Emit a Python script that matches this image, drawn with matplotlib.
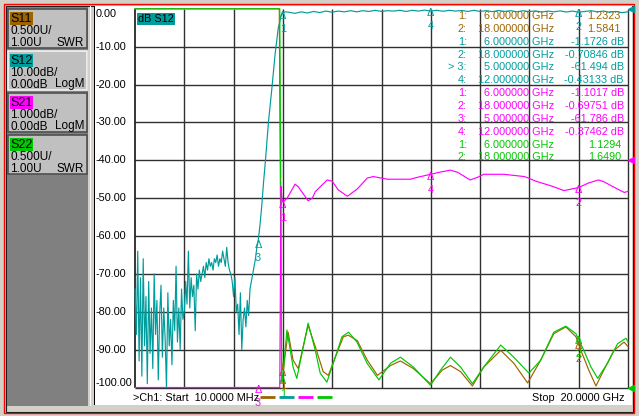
import numpy as np
import matplotlib
matplotlib.use("Agg")
import matplotlib.pyplot as plt
from matplotlib.patches import Rectangle
from matplotlib.transforms import blended_transform_factory, ScaledTranslation

plt.rcParams["font.family"] = ["Liberation Sans", "DejaVu Sans"]

# ---------------------------------------------------------------------------
# DONNEES (lues sur la capture de l'analyseur)
# ---------------------------------------------------------------------------
F_START, F_STOP = 0.01, 20.0          # GHz

# S12 : bruit en bande coupee, balayage lineaire 0.01 -> 4.95 GHz
s12_noise_db = [
    -74, -86, -64, -93, -71, -97, -66, -89, -76, -99,
    -72, -91, -79, -95, -70, -86, -77, -98, -81, -73,
    -92, -79, -87, -100, -75, -89, -82, -94,
    -77, -85, -68, -88, -79, -90, -74, -82, -80,
    -72, -78, -64, -79, -71, -76, -73, -85, -70, -74, -69, -72,
    -70, -68, -71, -67, -69, -66, -68, -67, -69, -66,
    -67, -65, -68, -66, -67, -64, -66, -68, -63, -67, -69, -70,
    -72, -76, -71, -80, -78, -86, -75, -90, -82, -79, -84, -77, -81, -74,
    -72, -70, -68, -66, -63,
]
# S12 : front de montee
s12_edge_ghz = [5.0, 5.08, 5.15, 5.22, 5.30, 5.42, 5.56, 5.69, 5.82, 5.93, 6.0, 6.1]
s12_edge_db = [-61.5, -57, -52, -46, -40, -30, -21, -12, -5, -2, -1.17, -0.8]
# S12 : bande passante, 6.25 -> 20 GHz par pas de 0.25 GHz
s12_pass_db = [
    -0.9, -1.2, -0.8, -1.1, -0.7, -1.0, -0.6, -0.9, -0.6, -0.8,
    -0.5, -0.8, -0.5, -0.7, -0.4, -0.7, -0.5, -0.6, -0.4, -0.7,
    -0.4, -0.6, -0.35, -0.6, -0.4, -0.65, -0.4, -0.6, -0.45, -0.7,
    -0.4, -0.7, -0.5, -0.75, -0.45, -0.7, -0.5, -0.8, -0.5, -0.75,
    -0.55, -0.85, -0.6, -0.8, -0.55, -0.85, -0.6, -0.9, -0.7, -0.5,
    -0.8, -0.6, -0.9, -0.7, -1.0, -0.8,
]

s21_ghz = [0.01, 2.0, 4.0, 5.0, 5.5, 5.88, 5.93, 5.97, 6.02, 6.18,
           6.5, 6.63, 7.03, 7.2, 7.32, 7.8, 8.0, 8.25, 8.62, 9.02,
           9.43, 9.67, 10.24, 10.77, 11.18, 11.46, 12.0, 12.4, 12.8, 13.1,
           13.6, 13.9, 14.15, 14.96, 15.8, 16.3, 16.9, 17.4, 18.0, 18.4,
           18.8, 19.0, 19.4, 19.85, 20.0]
s21_db = [-78, -72, -68, -61.8, -25, -9, -0.69, -1.05, -1.1, -1.0,
          -0.63, -0.7, -1.07, -1.0, -0.83, -0.52, -0.55, -0.78, -0.95, -0.76,
          -0.47, -0.43, -0.5, -0.5, -0.5, -0.45, -0.37, -0.31, -0.26, -0.32,
          -0.52, -0.45, -0.37, -0.37, -0.43, -0.56, -0.68, -0.8, -0.72, -0.6,
          -0.52, -0.56, -0.7, -0.85, -0.82]

s11_ghz = [0.01, 5.86, 5.95, 6.02, 6.22, 6.42, 6.63, 6.83, 7.03, 7.32,
           7.64, 7.85, 8.13, 8.46, 8.66, 9.02, 9.43, 9.84, 10.37, 10.77,
           11.30, 11.99, 12.47, 12.80, 13.21, 13.69, 14.15, 14.84, 15.37, 15.93,
           16.46, 16.99, 17.48, 17.89, 18.09, 18.41, 18.70, 19.02, 19.43, 19.84,
           20.0]
s11_swr = [60, 45, 1.35, 1.23, 1.73, 1.36, 1.25, 1.54, 1.82, 1.54,
           1.21, 1.16, 1.40, 1.67, 1.69, 1.62, 1.36, 1.16, 1.29, 1.35,
           1.25, 1.05, 1.23, 1.29, 1.21, 1.02, 1.27, 1.49, 1.32, 1.06,
           1.36, 1.71, 1.80, 1.67, 1.49, 1.23, 1.02, 1.23, 1.49, 1.60,
           1.54]

s22_ghz = [0.01, 5.88, 5.96, 6.0, 6.17, 6.42, 6.57, 6.78, 7.03, 7.32,
           7.52, 7.79, 8.13, 8.40, 8.67, 9.01, 9.42, 9.9, 10.37, 10.77,
           11.30, 11.99, 12.40, 12.80, 13.21, 13.69, 14.15, 14.84, 15.37, 15.98,
           16.46, 16.99, 17.48, 17.89, 18.21, 18.50, 18.77, 19.17, 19.58, 19.92,
           20.0]
s22_swr = [60, 45, 1.07, 1.13, 1.76, 1.27, 1.12, 1.45, 1.85, 1.49,
           1.19, 1.07, 1.40, 1.67, 1.73, 1.60, 1.32, 1.10, 1.32, 1.40,
           1.27, 1.03, 1.23, 1.40, 1.27, 1.05, 1.27, 1.56, 1.40, 1.19,
           1.36, 1.73, 1.81, 1.71, 1.49, 1.27, 1.12, 1.32, 1.58, 1.65,
           1.60]

# marqueurs
mk_s11_ghz, mk_s11_val, mk_s11_num = [6, 18], [1.2323, 1.5841], ["1", "2"]
mk_s12_ghz = [6, 18, 5, 12]
mk_s12_val = [-1.1726, -0.70846, -61.494, -0.43133]
mk_s12_num = ["1", "2", "3", "4"]
mk_s21_ghz = [6, 18, 5, 12]
mk_s21_val = [-1.1017, -0.69751, -61.786, -0.37462]
mk_s21_num = ["1", "2", "3", "4"]
mk_s22_ghz, mk_s22_val, mk_s22_num = [6, 18], [1.1294, 1.6490], ["1", "2"]

y_tick_labels = ["0.00", "-10.00", "-20.00", "-30.00", "-40.00", "-50.00",
                 "-60.00", "-70.00", "-80.00", "-90.00", "-100.00"]

# tableau des marqueurs (texte affiche)
table_trace = ["S11", "S11", "S12", "S12", "S12", "S12",
               "S21", "S21", "S21", "S21", "S22", "S22"]
table_num = ["1:", "2:", "1:", "2:", "> 3:", "4:", "1:", "2:", "3:", "4:", "1:", "2:"]
table_freq = ["6.000000 GHz", "18.000000 GHz", "6.000000 GHz", "18.000000 GHz",
              "5.000000 GHz", "12.000000 GHz", "6.000000 GHz", "18.000000 GHz",
              "5.000000 GHz", "12.000000 GHz", "6.000000 GHz", "18.000000 GHz"]
table_val = ["1.2323", "1.5841", "-1.1726 dB", "-0.70846 dB", "-61.494 dB",
             "-0.43133 dB", "-1.1017 dB", "-0.69751 dB", "-61.786 dB",
             "-0.37462 dB", "1.1294", "1.6490"]

buttons = [("S11", "0.500U/", "1.00U", "SWR"),
           ("S12", "10.00dB/", "0.00dB", "LogM"),
           ("S21", "1.000dB/", "0.00dB", "LogM"),
           ("S22", "0.500U/", "1.00U", "SWR")]

COLORS = {"S11": "#9C6400", "S12": "#009C9C", "S21": "#FF00FF", "S22": "#00C800"}
GRID = "#303030"
FS = 7.8
FS_BTN = 8.5

# ---------------------------------------------------------------------------
# FIGURE + CADRE (coordonnees en pixels)
# ---------------------------------------------------------------------------
W, H = 639, 416
PX0, PX1, PY0, PY1 = 135, 628, 8.8, 387.5

fig = plt.figure(figsize=(W / 100, H / 100), dpi=100)
fig.patch.set_facecolor("#D4D0C8")

bg = fig.add_axes([0, 0, 1, 1], zorder=0, label="bg")
bg.axis("off")


def rect(x0, y0, x1, y1, **kw):
    bg.add_patch(Rectangle((x0, y0), x1 - x0, y1 - y0, **kw))


rect(4, 4, 634, 413, fill=False, ec="#FF0000", lw=1.0)
rect(5.5, 5.5, 632.5, 411.5, fill=False, ec="#202020", lw=0.8)
rect(7, 7, 88, 406, fc="#808080", ec="none")
rect(94, 6, 632, 405, fc="white", ec="none")
rect(93.5, 6, 94.5, 405, fc="black", ec="none")
rect(89.5, 6, 90.5, 406, fc="white", ec="none")

# grille de l'ecran : 10 x 10 divisions (pas de trait en haut)
for k in range(1, 11):
    gx = PX0 + k * (PX1 - PX0) / 10
    bg.plot([gx, gx], [PY0, PY1], color=GRID, lw=1.0, solid_capstyle="butt")
for k in range(1, 11):
    gy = PY0 + k * (PY1 - PY0) / 10
    bg.plot([PX0, PX1], [gy, gy], color=GRID, lw=1.0, solid_capstyle="butt")
bg.plot([PX0, PX0], [PY0, PY1], color="black", lw=1.1, solid_capstyle="butt")

# boutons de traces a gauche
for i, (name, l1, l2, fmt) in enumerate(buttons):
    y = 9 + 42 * i
    edge = "#F4F4F4" if name == "S12" else "#505050"
    rect(8, y, 87, y + 39, fc="#C0C0C0", ec=edge, lw=1.2)
    rect(10, y + 3, 33, y + 15.5, fc=COLORS[name], ec="none")

bg.set_xlim(0, W)
bg.set_ylim(H, 0)

top = fig.add_axes([0, 0, 1, 1], zorder=10, label="top")
top.axis("off")

for i, (name, l1, l2, fmt) in enumerate(buttons):
    y = 9 + 42 * i
    top.text(10.5, y + 9.8, name, fontsize=FS_BTN + 0.5, va="center", ha="left")
    top.text(10.5, y + 22.5, l1, fontsize=FS_BTN, va="center", ha="left")
    top.text(10.5, y + 33.5, l2, fontsize=FS_BTN, va="center", ha="left")
    top.text(84, y + 33.5, fmt, fontsize=FS_BTN, va="center", ha="right")

# ---------------------------------------------------------------------------
# AXES DES TRACES
# ---------------------------------------------------------------------------
rect_ax = [PX0 / W, 1 - PY1 / H, (PX1 - PX0) / W, (PY1 - PY0) / H]

ax = fig.add_axes(rect_ax, zorder=1, label="s12")
ax_swr = fig.add_axes(rect_ax, zorder=2, label="swr")
ax21 = fig.add_axes(rect_ax, zorder=3, label="s21")

for a in (ax, ax_swr, ax21):
    a.patch.set_visible(False)
    a.set_xticks([])
    a.set_yticks([])
    for s in a.spines.values():
        s.set_visible(False)
    a.set_xlim(F_START, F_STOP)
ax.set_ylim(-100, 0)
ax21.set_ylim(-6, 4)
ax_swr.set_ylim(1, 6)

LW = 0.85
# S11 / S22 (SWR, 0.5 U/div, ref 1.00 en bas)
ax_swr.plot(s11_ghz, np.clip(s11_swr, 1, 6), color=COLORS["S11"], lw=LW, clip_on=False)
ax_swr.plot(s22_ghz, np.clip(s22_swr, 1, 6), color=COLORS["S22"], lw=LW, clip_on=False)

# S12 (10 dB/div)
s12_f = np.concatenate([np.linspace(F_START, 4.95, len(s12_noise_db)), s12_edge_ghz,
                        np.linspace(6.25, F_STOP, len(s12_pass_db))])
s12_v = np.concatenate([s12_noise_db, s12_edge_db, s12_pass_db])
ax.plot(s12_f, np.clip(s12_v, -100, 0), color=COLORS["S12"], lw=LW, clip_on=False)

# S21 (1 dB/div, ref 0 dB sur la 4e division)
ax21.plot(s21_ghz, np.clip(s21_db, -6, 4), color=COLORS["S21"], lw=LW, clip_on=False)

# etiquettes de l'axe Y
ylab_tr = blended_transform_factory(ax.transAxes, ax.transData)
for lab, v in zip(y_tick_labels, np.arange(0, -101, -10)):
    va = "top" if v == 0 else ("bottom" if v == -100 else "center")
    ax.text((96 - PX0) / (PX1 - PX0), v, lab, transform=ylab_tr, fontsize=FS,
            ha="left", va=va, clip_on=False)


def draw_markers(a, freqs, vals, nums, color, lo, hi):
    for f, v, n in zip(freqs, vals, nums):
        v = min(max(v, lo), hi)
        a.annotate("\u0394", xy=(f, v), xytext=(0, 2), textcoords="offset pixels",
                   ha="center", va="top", color=color, fontsize=FS,
                   annotation_clip=False)
        a.annotate(n, xy=(f, v), xytext=(0, -16), textcoords="offset pixels",
                   ha="center", va="center", color=color, fontsize=FS,
                   annotation_clip=False)


draw_markers(ax_swr, mk_s11_ghz, mk_s11_val, mk_s11_num, COLORS["S11"], 1, 6)
draw_markers(ax, mk_s12_ghz, mk_s12_val, mk_s12_num, COLORS["S12"], -100, 0)
draw_markers(ax21, mk_s21_ghz, mk_s21_val, mk_s21_num, COLORS["S21"], -6, 4)
draw_markers(ax_swr, mk_s22_ghz, mk_s22_val, mk_s22_num, COLORS["S22"], 1, 6)

# fleches de reference a droite
shift = ScaledTranslation(3 / 100, 0, fig.dpi_scale_trans)
for a, ref, name in ((ax, 0, "S12"), (ax21, 0, "S21"), (ax_swr, 1, "S22")):
    a.plot([F_STOP], [ref], marker="<", ms=4.5, color=COLORS[name], clip_on=False,
           transform=a.transData + shift)

for a in (ax, ax_swr, ax21):
    a.set_xlim(F_START, F_STOP)
ax.set_ylim(-100, 0)
ax21.set_ylim(-6, 4)
ax_swr.set_ylim(1, 6)

# ---------------------------------------------------------------------------
# TEXTES
# ---------------------------------------------------------------------------
top.text(138, 19, "dB S12", fontsize=FS, ha="left", va="center",
         bbox=dict(fc=COLORS["S12"], ec="none", boxstyle="square,pad=0.12"))

for i in range(len(table_num)):
    y = 16 + 12.85 * i
    c = COLORS[table_trace[i]]
    xv = 624 if table_val[i].endswith("dB") else 621
    top.text(467, y, table_num[i], color=c, fontsize=FS, ha="right", va="center")
    top.text(554, y, table_freq[i], color=c, fontsize=FS, ha="right", va="center")
    top.text(xv, y, table_val[i], color=c, fontsize=FS, ha="right", va="center")

top.text(133, 398, ">Ch1: Start  10.0000 MHz", fontsize=FS, ha="left", va="center")
top.text(625, 398, "Stop  20.0000 GHz", fontsize=FS, ha="right", va="center")
for k, name in enumerate(["S11", "S12", "S21", "S22"]):
    x0 = 260 + 19 * k
    top.plot([x0, x0 + 15], [397, 397], color=COLORS[name], lw=2.0,
             solid_capstyle="butt")

top.set_xlim(0, W)
top.set_ylim(H, 0)

fig.savefig("out.png", dpi=100, facecolor=fig.get_facecolor())
